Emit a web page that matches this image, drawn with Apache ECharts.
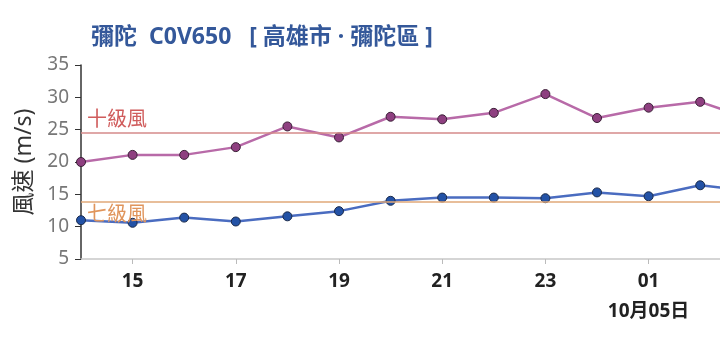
<!DOCTYPE html>
<html>
<head>
<meta charset="utf-8">
<script src="https://cdn.jsdelivr.net/npm/echarts@6/dist/echarts.min.js"></script>
<style>
  html, body { margin: 0; padding: 0; background: #fff; }
  #chart { width: 720px; height: 348px; }
</style>
</head>
<body>
<div id="chart"></div>
<script>
// Hourly observations, 10/04 14:00 through 10/05 03:00 (hours past midnight counted as 24+)
const hours = [14, 15, 16, 17, 18, 19, 20, 21, 22, 23, 24, 25, 26, 27];
const gustSpeed = [20.0, 21.1, 21.1, 22.3, 25.5, 23.8, 27.0, 26.6, 27.6, 30.5, 26.8, 28.4, 29.3, 26.6];
const windSpeed = [11.0, 10.6, 11.4, 10.8, 11.6, 12.4, 14.0, 14.5, 14.5, 14.4, 15.3, 14.7, 16.4, 15.5];
const tickHours = [15, 17, 19, 21, 23, 25];
const level10 = 24.5;   // 十級風 lower bound
const level7 = 13.9;    // 七級風 lower bound
const dayMarkHour = 25; // first tick of the new day
const dayMarkText = '10月05日';
const stationName = '彌陀';
const stationId = 'C0V650';
const county = '高雄市';
const town = '彌陀區';

const fontFam = '"Noto Sans", "Noto Sans CJK TC", sans-serif';

function pairs(xs, ys) { return xs.map((x, i) => [x, ys[i]]); }

const chart = echarts.init(document.getElementById('chart'), null, { renderer: 'canvas' });
chart.setOption({
  animation: false,
  title: {
    text: stationName + '  ' + stationId + '   [ ' + county + ' · ' + town + ' ]',
    left: 86,
    top: 21,
    textStyle: { color: '#34589a', fontSize: 23, fontWeight: 'bold', fontFamily: fontFam }
  },
  grid: { left: 81, right: 0, top: 65, bottom: 89, containLabel: false },
  xAxis: {
    type: 'value',
    min: 14,
    max: 14 + 639 / 51.6,
    axisLine: { show: true, lineStyle: { color: '#c8c8c8', width: 1.5 } },
    axisTick: { show: true, length: 5, lineStyle: { color: '#bbbbbb' }, customValues: tickHours },
    splitLine: { show: false },
    axisLabel: {
      customValues: tickHours,
      margin: 13,
      verticalAlign: 'top',
      formatter: v => {
        const h = String(v % 24).padStart(2, '0');
        return v === dayMarkHour ? '{h|' + h + '}\n{d|' + dayMarkText + '}' : '{h|' + h + '}';
      },
      rich: {
        h: { fontSize: 19, fontWeight: 'bold', color: '#222', fontFamily: fontFam, lineHeight: 20 },
        d: { fontSize: 19, fontWeight: 'bold', color: '#222', fontFamily: fontFam, lineHeight: 40 }
      }
    }
  },
  yAxis: {
    type: 'value',
    min: 5,
    max: 35,
    interval: 5,
    name: '風速 (m/s)',
    nameLocation: 'middle',
    nameGap: 44,
    nameRotate: 90,
    nameTextStyle: { fontSize: 23, color: '#333', fontFamily: fontFam },
    axisLine: { show: true, lineStyle: { color: '#333', width: 1.5 } },
    axisTick: { show: true, length: 6, lineStyle: { color: '#333' } },
    splitLine: { show: false },
    axisLabel: { fontSize: 19, color: '#777', margin: 12, fontFamily: fontFam }
  },
  series: [
    {
      name: '陣風',
      type: 'line',
      data: pairs(hours, gustSpeed),
      clip: true,
      symbol: 'circle',
      symbolSize: 9,
      lineStyle: { color: '#b86aa8', width: 2.5 },
      itemStyle: { color: '#8e3f80', borderColor: '#3a1f36', borderWidth: 1 },
      z: 3,
      markLine: {
        silent: true,
        symbol: 'none',
        lineStyle: { color: '#d48a8a', type: 'solid', width: 1.5 },
        label: {
          show: true,
          position: 'insideStartTop',
          formatter: '十級風',
          color: '#d05c5c',
          fontSize: 20,
          fontFamily: fontFam,
          distance: [6, 3]
        },
        data: [{ yAxis: level10 }]
      }
    },
    {
      name: '風速',
      type: 'line',
      data: pairs(hours, windSpeed),
      clip: true,
      symbol: 'circle',
      symbolSize: 9,
      lineStyle: { color: '#4a6cc0', width: 2.5 },
      itemStyle: { color: '#2352a6', borderColor: '#1a2a4a', borderWidth: 1 },
      z: 3,
      markLine: {
        silent: true,
        symbol: 'none',
        lineStyle: { color: '#e0a878', type: 'solid', width: 1.5 },
        label: {
          show: true,
          position: 'insideStartBottom',
          formatter: '七級風',
          color: '#e0955c',
          fontSize: 20,
          fontFamily: fontFam,
          distance: [6, 4]
        },
        data: [{ yAxis: level7 }]
      }
    }
  ]
});
</script>
</body>
</html>
